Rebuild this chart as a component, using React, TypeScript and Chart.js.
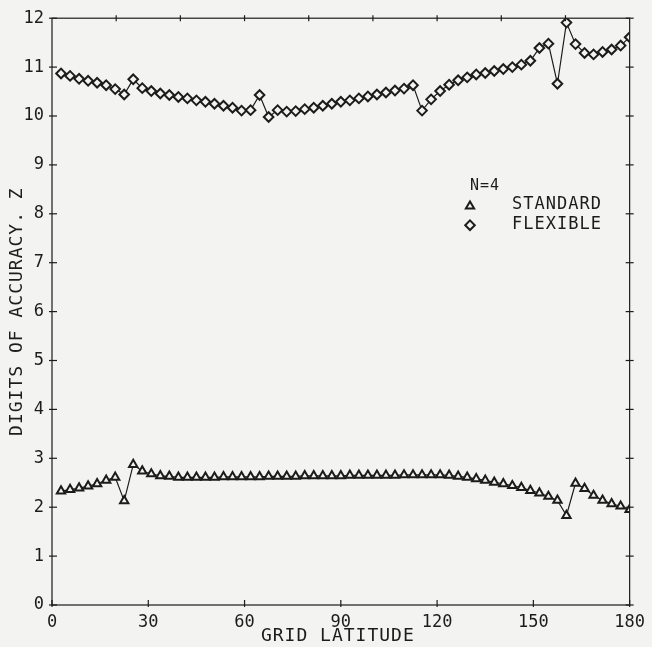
import React, { useEffect, useRef } from "react";
import { Chart, registerables } from "chart.js";

Chart.register(...registerables);

// Grid latitudes (degrees) of the plotted points
const LATITUDES = [
  2.81, 5.63, 8.44, 11.25, 14.06, 16.88, 19.69, 22.5, 25.31, 28.13, 30.94, 33.75, 36.56, 39.38, 42.19, 45,
  47.81, 50.63, 53.44, 56.25, 59.06, 61.88, 64.69, 67.5, 70.31, 73.13, 75.94, 78.75, 81.56, 84.38, 87.19, 90,
  92.81, 95.63, 98.44, 101.25, 104.06, 106.88, 109.69, 112.5, 115.31, 118.13, 120.94, 123.75, 126.56, 129.38, 132.19, 135,
  137.81, 140.63, 143.44, 146.25, 149.06, 151.88, 154.69, 157.5, 160.31, 163.13, 165.94, 168.75, 171.56, 174.38, 177.19, 180,
];

// Digits of accuracy, STANDARD (triangles)
const STANDARD = [
  2.33, 2.36, 2.39, 2.43, 2.48, 2.55, 2.61, 2.13, 2.87, 2.74, 2.68, 2.64, 2.63,
  2.61, 2.61, 2.61, 2.61, 2.61, 2.62, 2.62, 2.62, 2.62,
  2.62, 2.63, 2.63, 2.63, 2.63, 2.64, 2.64, 2.64, 2.64, 2.64, 2.65, 2.65, 2.65, 2.65, 2.65, 2.65, 2.66, 2.66, 2.66, 2.66,
  2.66, 2.65, 2.63, 2.61, 2.58, 2.55, 2.51, 2.48, 2.44, 2.40, 2.34, 2.29, 2.22, 2.14, 1.83, 2.49, 2.38, 2.24, 2.14, 2.07, 2.02, 1.95,
];

// Digits of accuracy, FLEXIBLE (diamonds)
const FLEXIBLE = [
  10.87, 10.82, 10.76, 10.72, 10.68, 10.63, 10.55, 10.44, 10.75, 10.57, 10.51, 10.46, 10.43, 10.39, 10.36, 10.32,
  10.29, 10.25, 10.21, 10.17, 10.11, 10.12,
  10.43, 9.98, 10.12, 10.09, 10.10, 10.14, 10.17, 10.21, 10.25, 10.29, 10.32, 10.36, 10.40, 10.44, 10.48, 10.52,
  10.56, 10.63, 10.11, 10.34, 10.51, 10.64,
  10.73, 10.79, 10.85, 10.88, 10.92, 10.96, 11.00, 11.05, 11.13, 11.39, 11.48, 10.66, 11.91, 11.47, 11.29, 11.26,
  11.31, 11.36, 11.44, 11.61,
];

const X_TICKS = [0, 30, 60, 90, 120, 150, 180];
const TOP_TICKS = [20, 40, 60, 80, 100, 120, 140, 160];
const Y_TICKS = [0, 1, 2, 3, 4, 5, 6, 7, 8, 9, 10, 11, 12];

const X_TITLE = "GRID LATITUDE";
const Y_TITLE = "DIGITS OF ACCURACY. Z";
const LEGEND_TITLE = "N=4";
const LEGEND_STANDARD = "STANDARD";
const LEGEND_FLEXIBLE = "FLEXIBLE";

const BG = "#f3f3f1";
const INK = "#1c1c1c";
const FONT = "'DejaVu Sans Mono', monospace";

function drawTri(ctx: CanvasRenderingContext2D, x: number, y: number, r: number) {
  ctx.beginPath();
  for (let i = 0; i < 3; i++) {
    const a = -Math.PI / 2 + (i * 2 * Math.PI) / 3;
    const px = x + Math.cos(a) * r;
    const py = y + Math.sin(a) * r;
    if (i === 0) ctx.moveTo(px, py);
    else ctx.lineTo(px, py);
  }
  ctx.closePath();
  ctx.fill();
  ctx.stroke();
}

function drawDiamond(ctx: CanvasRenderingContext2D, x: number, y: number, r: number) {
  ctx.beginPath();
  ctx.moveTo(x, y - r);
  ctx.lineTo(x + r, y);
  ctx.lineTo(x, y + r);
  ctx.lineTo(x - r, y);
  ctx.closePath();
  ctx.fill();
  ctx.stroke();
}

const framePlugin = {
  id: "frame",
  beforeDraw(chart: any) {
    const { ctx, width, height } = chart;
    ctx.save();
    ctx.fillStyle = BG;
    ctx.fillRect(0, 0, width, height);
    ctx.restore();
  },
  afterDraw(chart: any) {
    const { ctx, chartArea, scales } = chart;
    const { left, right, top, bottom } = chartArea;
    const x = scales.x;
    const y = scales.y;
    ctx.save();
    ctx.strokeStyle = INK;
    ctx.lineWidth = 1.2;
    ctx.strokeRect(left, top, right - left, bottom - top);
    const line = (x1: number, y1: number, x2: number, y2: number) => {
      ctx.beginPath();
      ctx.moveTo(x1, y1);
      ctx.lineTo(x2, y2);
      ctx.stroke();
    };
    for (const v of Y_TICKS) {
      const py = y.getPixelForValue(v);
      line(left - 3, py, left + 5, py);
      line(right - 4, py, right + 4, py);
    }
    for (const v of X_TICKS) {
      const px = x.getPixelForValue(v);
      line(px, bottom + 2, px, bottom - 5);
    }
    for (const v of TOP_TICKS) {
      const px = x.getPixelForValue(v);
      line(px, top - 3, px, top + 3);
    }

    // axis titles
    ctx.fillStyle = INK;
    (ctx as any).letterSpacing = "1px";
    ctx.font = `18px ${FONT}`;
    ctx.textAlign = "center";
    ctx.textBaseline = "middle";
    ctx.fillText(X_TITLE, (left + right) / 2 - 3, bottom + 31);
    ctx.save();
    ctx.translate(17, (top + bottom) / 2);
    ctx.rotate(-Math.PI / 2);
    ctx.fillText(Y_TITLE, 0, 0);
    ctx.restore();

    // legend block inside plot
    const lx = left + 418;
    const ly = top + 168;
    ctx.font = `15px ${FONT}`;
    ctx.fillText(LEGEND_TITLE, lx + 15, ly);
    ctx.font = `17px ${FONT}`;
    ctx.textAlign = "left";
    ctx.fillText(LEGEND_STANDARD, lx + 42, ly + 18);
    ctx.fillText(LEGEND_FLEXIBLE, lx + 42, ly + 38);
    ctx.fillStyle = BG;
    ctx.lineWidth = 2;
    drawTri(ctx, lx, ly + 20, 4.8);
    drawDiamond(ctx, lx, ly + 39, 4.8);
    ctx.restore();
  },
};

export default function App() {
  const canvasRef = useRef<HTMLCanvasElement | null>(null);

  useEffect(() => {
    const canvas = canvasRef.current;
    if (!canvas) return;
    const chart = new Chart(canvas, {
      type: "line",
      data: {
        datasets: [
          {
            label: LEGEND_STANDARD,
            data: LATITUDES.map((lat, i) => ({ x: lat, y: STANDARD[i] })),
            borderColor: INK,
            borderWidth: 1.2,
            pointStyle: "triangle",
            pointRadius: 4.8,
            pointBackgroundColor: BG,
            pointBorderColor: INK,
            pointBorderWidth: 2,
            tension: 0,
          },
          {
            label: LEGEND_FLEXIBLE,
            data: LATITUDES.map((lat, i) => ({ x: lat, y: FLEXIBLE[i] })),
            borderColor: INK,
            borderWidth: 1.2,
            pointStyle: "rectRot",
            pointRadius: 4.8,
            pointBackgroundColor: BG,
            pointBorderColor: INK,
            pointBorderWidth: 2,
            tension: 0,
          },
        ],
      },
      options: {
        responsive: false,
        animation: false,
        devicePixelRatio: 1,
        layout: { padding: { left: 0, top: 16, right: 20, bottom: 0 } },
        plugins: {
          legend: { display: false },
          tooltip: { enabled: false },
          title: { display: false },
        },
        scales: {
          x: {
            type: "linear",
            min: 0,
            max: 180,
            afterBuildTicks: (scale: any) => {
              scale.ticks = X_TICKS.map((v) => ({ value: v }));
            },
            afterFit: (scale: any) => {
              scale.height = 42;
            },
            grid: { display: false, drawTicks: false },
            border: { display: false },
            ticks: {
              padding: 7,
              color: INK,
              font: { family: FONT, size: 17 },
              maxRotation: 0,
              autoSkip: false,
            },
          },
          y: {
            type: "linear",
            min: 0,
            max: 12,
            afterBuildTicks: (scale: any) => {
              scale.ticks = Y_TICKS.map((v) => ({ value: v }));
            },
            afterFit: (scale: any) => {
              scale.width = 52;
            },
            grid: { display: false, drawTicks: false },
            border: { display: false },
            ticks: {
              padding: 8,
              color: INK,
              font: { family: FONT, size: 17 },
              autoSkip: false,
            },
          },
        },
      },
      plugins: [framePlugin],
    } as any);
    return () => chart.destroy();
  }, []);

  return (
    <div style={{ position: "fixed", left: 0, top: 0, width: 652, height: 647, background: BG }}>
      <canvas ref={canvasRef} width={652} height={647} style={{ display: "block", width: 652, height: 647 }} />
    </div>
  );
}
